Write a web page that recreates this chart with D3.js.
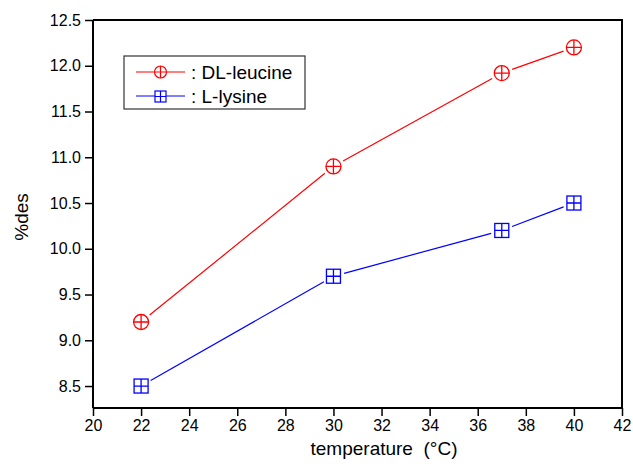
<!DOCTYPE html>
<html>
<head>
<meta charset="utf-8">
<script src="https://cdn.jsdelivr.net/npm/d3@7"></script>
<style>
  body { margin: 0; background: #fff; }
  text { font-family: "Liberation Sans", Arial, sans-serif; }
</style>
</head>
<body>
<div id="chart"></div>
<script>
// Data
var temperature = [22, 30, 37, 40];
var leucine = [9.2, 10.9, 11.92, 12.2];
var lysine = [8.5, 9.7, 10.2, 10.5];
var xTicks = [20, 22, 24, 26, 28, 30, 32, 34, 36, 38, 40, 42];
var yTicks = [8.5, 9.0, 9.5, 10.0, 10.5, 11.0, 11.5, 12.0, 12.5];

var svgWidth = 633;
var svgHeight = 464;

var margin = { top: 20, right: 11, bottom: 56, left: 93 };
var chartWidth = svgWidth - margin.left - margin.right;
var chartHeight = svgHeight - margin.top - margin.bottom;

var svg = d3.select("#chart")
    .append("svg")
    .attr("width", svgWidth)
    .attr("height", svgHeight);

var chartGroup = svg.append("g")
    .attr("transform", `translate(${margin.left}, ${margin.top})`);

var xScale = d3.scaleLinear().domain([20, 42]).range([0, chartWidth]);
var yScale = d3.scaleLinear().domain([8.26, 12.5]).range([chartHeight, 0]);

// frame (top and right)
chartGroup.append("path")
    .attr("d", `M0,0H${chartWidth}V${chartHeight}`)
    .attr("fill", "none")
    .attr("stroke", "#000")
    .attr("stroke-width", 2);

var xAxis = d3.axisBottom(xScale).tickValues(xTicks).tickSize(8).tickPadding(4)
    .tickFormat(d3.format("d"));
var yAxis = d3.axisLeft(yScale).tickValues(yTicks).tickSize(8).tickPadding(4)
    .tickFormat(d3.format(".1f"));

var gx = chartGroup.append("g")
    .attr("transform", `translate(0, ${chartHeight})`)
    .call(xAxis);
var gy = chartGroup.append("g")
    .call(yAxis);

[gx, gy].forEach(function(g) {
    g.select(".domain").attr("stroke-width", 2);
    g.selectAll(".tick line").attr("stroke-width", 1.5);
    g.selectAll("text").style("font-size", "16px").attr("fill", "#000")
        .style("font-family", "'Liberation Sans', Arial, sans-serif");
});
gy.select(".domain").attr("d", `M0,${chartHeight}V0`);
gx.select(".domain").attr("d", `M0,0H${chartWidth}`);

// line segments with gaps around markers
function drawSeries(values, color, gap) {
    var pts = temperature.map(function(t, i) {
        return [xScale(t), yScale(values[i])];
    });
    for (var i = 0; i < pts.length - 1; i++) {
        var a = pts[i], b = pts[i + 1];
        var dx = b[0] - a[0], dy = b[1] - a[1];
        var len = Math.sqrt(dx * dx + dy * dy);
        var ux = dx / len, uy = dy / len;
        chartGroup.append("line")
            .attr("x1", a[0] + ux * gap).attr("y1", a[1] + uy * gap)
            .attr("x2", b[0] - ux * gap).attr("y2", b[1] - uy * gap)
            .attr("stroke", color)
            .attr("stroke-width", 1.2);
    }
    return pts;
}

function circleMarker(g, x, y) {
    g.append("circle").attr("cx", x).attr("cy", y).attr("r", 7.5)
        .attr("fill", "none").attr("stroke", "red").attr("stroke-width", 1.3);
    g.append("path")
        .attr("d", `M${x - 7.5},${y}H${x + 7.5}M${x},${y - 7.5}V${y + 7.5}`)
        .attr("stroke", "red").attr("stroke-width", 1.3);
}

function squareMarker(g, x, y) {
    g.append("rect").attr("x", x - 7).attr("y", y - 7).attr("width", 14).attr("height", 14)
        .attr("fill", "none").attr("stroke", "blue").attr("stroke-width", 1.3);
    g.append("path")
        .attr("d", `M${x - 7},${y}H${x + 7}M${x},${y - 7}V${y + 7}`)
        .attr("stroke", "blue").attr("stroke-width", 1.3);
}

drawSeries(leucine, "red", 11).forEach(function(p) { circleMarker(chartGroup, p[0], p[1]); });
drawSeries(lysine, "blue", 11).forEach(function(p) { squareMarker(chartGroup, p[0], p[1]); });

// legend
var legend = svg.append("g");
legend.append("rect")
    .attr("x", 124).attr("y", 56).attr("width", 181).attr("height", 53)
    .attr("fill", "#fff").attr("stroke", "#333").attr("stroke-width", 1.2);

var legendItems = [
    { label: ": DL-leucine", color: "red", y: 72, kind: "circle" },
    { label: ": L-lysine", color: "blue", y: 96, kind: "square" }
];
legendItems.forEach(function(item) {
    legend.append("line")
        .attr("x1", 136).attr("x2", 185)
        .attr("y1", item.y).attr("y2", item.y)
        .attr("stroke", item.color).attr("stroke-width", 1.2);
    if (item.kind === "circle") {
        legend.append("circle").attr("cx", 160.5).attr("cy", item.y).attr("r", 6)
            .attr("fill", "#fff").attr("stroke", "red").attr("stroke-width", 1.2);
        legend.append("path").attr("d", `M${154.5},${item.y}H${166.5}M160.5,${item.y - 6}V${item.y + 6}`)
            .attr("stroke", "red").attr("stroke-width", 1.2);
    } else {
        legend.append("rect").attr("x", 155).attr("y", item.y - 5).attr("width", 11).attr("height", 11)
            .attr("fill", "#fff").attr("stroke", "blue").attr("stroke-width", 1.2);
        legend.append("path").attr("d", `M155,${item.y + 0.5}H166M160.5,${item.y - 5}V${item.y + 6}`)
            .attr("stroke", "blue").attr("stroke-width", 1.2);
    }
    legend.append("text")
        .attr("x", 191).attr("y", item.y + 7)
        .style("font-size", "19px")
        .text(item.label);
});

// axis titles
svg.append("text")
    .attr("x", 384).attr("y", 455)
    .style("text-anchor", "middle")
    .style("font-size", "19px")
    .style("white-space", "pre")
    .text("temperature  (\u00B0C)");

svg.append("text")
    .attr("transform", "translate(28, 217) rotate(-90)")
    .style("text-anchor", "middle")
    .style("font-size", "19px")
    .text("%des");
</script>
</body>
</html>
